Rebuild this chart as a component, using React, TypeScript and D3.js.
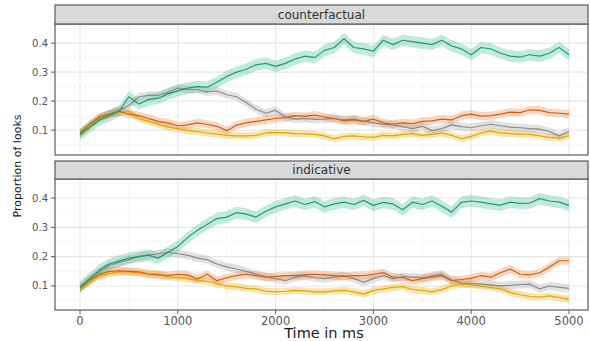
import * as d3 from "d3";
import React from "react";

// time points (ms)
const timeMs = [
  0, 100, 200, 300, 400, 500, 600, 700, 800, 900, 1000, 1100, 1200, 1300, 1400,
  1500, 1600, 1700, 1800, 1900, 2000, 2100, 2200, 2300, 2400, 2500, 2600, 2700,
  2800, 2900, 3000, 3100, 3200, 3300, 3400, 3500, 3600, 3700, 3800, 3900, 4000,
  4100, 4200, 4300, 4400, 4500, 4600, 4700, 4800, 4900, 5000,
];

// counterfactual panel
const cfGreen = [
  0.085, 0.11, 0.135, 0.15, 0.165, 0.215, 0.19, 0.205, 0.21, 0.225, 0.235,
  0.245, 0.25, 0.248, 0.265, 0.285, 0.3, 0.31, 0.325, 0.33, 0.32, 0.33, 0.345,
  0.355, 0.35, 0.375, 0.385, 0.415, 0.385, 0.38, 0.372, 0.41, 0.395, 0.41,
  0.405, 0.4, 0.395, 0.41, 0.39, 0.38, 0.36, 0.385, 0.38, 0.365, 0.355, 0.352,
  0.36, 0.355, 0.365, 0.385, 0.36,
];
const cfOrange = [
  0.09, 0.12, 0.145, 0.155, 0.165, 0.155, 0.15, 0.14, 0.13, 0.125, 0.115,
  0.118, 0.125, 0.12, 0.113, 0.098, 0.117, 0.125, 0.13, 0.135, 0.14, 0.143,
  0.15, 0.147, 0.152, 0.145, 0.14, 0.132, 0.135, 0.13, 0.138, 0.125, 0.12,
  0.125, 0.122, 0.13, 0.132, 0.138, 0.135, 0.15, 0.155, 0.148, 0.15, 0.155,
  0.162, 0.16, 0.17, 0.168, 0.16, 0.158, 0.155,
];
const cfGray = [
  0.09, 0.115, 0.14, 0.155, 0.168, 0.185, 0.215, 0.22, 0.22, 0.23, 0.245, 0.24,
  0.24, 0.232, 0.235, 0.222, 0.215, 0.195, 0.172, 0.158, 0.168, 0.145, 0.138,
  0.14, 0.137, 0.138, 0.14, 0.135, 0.138, 0.13, 0.125, 0.12, 0.118, 0.112,
  0.105, 0.113, 0.098, 0.105, 0.118, 0.112, 0.108, 0.115, 0.12, 0.115, 0.11,
  0.108, 0.105, 0.103, 0.095, 0.08, 0.095,
];
const cfYellow = [
  0.085, 0.115, 0.145, 0.155, 0.16, 0.165, 0.14, 0.13, 0.12, 0.11, 0.105,
  0.098, 0.095, 0.09, 0.086, 0.082, 0.08, 0.08, 0.082, 0.09, 0.092, 0.09,
  0.088, 0.087, 0.085, 0.08, 0.07, 0.078, 0.08, 0.077, 0.075, 0.082, 0.08,
  0.085, 0.088, 0.082, 0.085, 0.09, 0.082, 0.07, 0.078, 0.09, 0.097, 0.09,
  0.088, 0.086, 0.085, 0.08, 0.075, 0.072, 0.08,
];

// indicative panel
const indGreen = [
  0.097, 0.125, 0.155, 0.175, 0.185, 0.195, 0.2, 0.205, 0.195, 0.215, 0.235,
  0.265, 0.29, 0.31, 0.33, 0.335, 0.35, 0.345, 0.335, 0.355, 0.37, 0.38, 0.39,
  0.378, 0.388, 0.37, 0.38, 0.386, 0.378, 0.392, 0.375, 0.385, 0.38, 0.36,
  0.386, 0.378, 0.39, 0.372, 0.352, 0.385, 0.39, 0.386, 0.38, 0.376, 0.386,
  0.382, 0.383, 0.398, 0.39, 0.386, 0.375,
];
const indOrange = [
  0.092, 0.12, 0.14, 0.15, 0.152, 0.15, 0.148, 0.14, 0.138, 0.135, 0.14,
  0.138, 0.124, 0.14, 0.118, 0.128, 0.135, 0.14, 0.135, 0.13, 0.132, 0.135,
  0.135, 0.138, 0.14, 0.138, 0.135, 0.133, 0.135, 0.135, 0.14, 0.146, 0.13,
  0.128, 0.118, 0.125, 0.13, 0.135, 0.118, 0.122, 0.126, 0.135, 0.13, 0.145,
  0.158, 0.14, 0.138, 0.145, 0.165, 0.186, 0.186,
];
const indGray = [
  0.095, 0.125, 0.15, 0.17, 0.18, 0.19, 0.2, 0.205, 0.21, 0.215, 0.21, 0.205,
  0.195, 0.19, 0.175, 0.165, 0.158, 0.15, 0.14, 0.132, 0.125, 0.118, 0.13,
  0.135, 0.128, 0.125, 0.13, 0.135, 0.125, 0.113, 0.125, 0.135, 0.125, 0.132,
  0.13, 0.128, 0.135, 0.14, 0.12, 0.11, 0.108, 0.106, 0.104, 0.1, 0.102, 0.105,
  0.106, 0.09, 0.1, 0.095, 0.092,
];
const indYellow = [
  0.09, 0.115, 0.135, 0.142, 0.148, 0.148, 0.145, 0.142, 0.14, 0.132, 0.128,
  0.124, 0.12, 0.116, 0.108, 0.1, 0.097, 0.092, 0.09, 0.082, 0.08, 0.082,
  0.085, 0.083, 0.08, 0.08, 0.083, 0.085, 0.08, 0.072, 0.085, 0.09, 0.095,
  0.098, 0.088, 0.085, 0.08, 0.088, 0.1, 0.106, 0.104, 0.1, 0.095, 0.09, 0.078,
  0.07, 0.064, 0.062, 0.066, 0.06, 0.055,
];

// ribbon half widths (proportion), one per series: gray, yellow, orange, green
const ribbonHalf = [0.014, 0.012, 0.014, 0.02];
const seriesColors = ["#a6a6a6", "#e6ab02", "#e8823a", "#3dbb92"];
const lineColors = ["#8c8c8c", "#e0a800", "#d2600e", "#1b9e77"];

const panelTitles = ["counterfactual", "indicative"];
const panelSeries = [
  [cfGray, cfYellow, cfOrange, cfGreen],
  [indGray, indYellow, indOrange, indGreen],
];

const xTicks = [0, 1000, 2000, 3000, 4000, 5000];
const xMinor = [500, 1500, 2500, 3500, 4500];
const yTicks = [0.1, 0.2, 0.3, 0.4];
const yMinor = [0.05, 0.15, 0.25, 0.35, 0.45];

const W = 590;
const H = 341;
const panelLeft = 55;
const panelRight = 588;
const fontFamily = "DejaVu Sans, sans-serif";

const layout = [
  { stripTop: 5, top: 24, bottom: 155, domain: [0.014, 0.466] },
  { stripTop: 161, top: 179, bottom: 310, domain: [0.018, 0.465] },
];

const x = d3.scaleLinear().domain([0, 5000]).range([80, 569]);

function Panel({ idx }: { idx: number }) {
  const lay = layout[idx];
  const y = d3.scaleLinear().domain(lay.domain).range([lay.bottom, lay.top]);
  const series = panelSeries[idx];
  const clipId = `clip-${idx}`;

  return (
    <g>
      <defs>
        <clipPath id={clipId}>
          <rect
            x={panelLeft}
            y={lay.top}
            width={panelRight - panelLeft}
            height={lay.bottom - lay.top}
          />
        </clipPath>
      </defs>
      <rect
        x={panelLeft}
        y={lay.top}
        width={panelRight - panelLeft}
        height={lay.bottom - lay.top}
        fill="#ffffff"
      />
      {/* minor grid */}
      {yMinor.map((v) => (
        <line
          key={"ym" + v}
          x1={panelLeft}
          x2={panelRight}
          y1={y(v)}
          y2={y(v)}
          stroke="#f2f2f2"
          strokeWidth={0.6}
        />
      ))}
      {xMinor.map((t) => (
        <line
          key={"xm" + t}
          x1={x(t)}
          x2={x(t)}
          y1={lay.top}
          y2={lay.bottom}
          stroke="#f2f2f2"
          strokeWidth={0.6}
        />
      ))}
      {/* major grid */}
      {yTicks.map((v) => (
        <line
          key={"yg" + v}
          x1={panelLeft}
          x2={panelRight}
          y1={y(v)}
          y2={y(v)}
          stroke="#e8e8e8"
          strokeWidth={1.1}
        />
      ))}
      {xTicks.map((t) => (
        <line
          key={"xg" + t}
          x1={x(t)}
          x2={x(t)}
          y1={lay.top}
          y2={lay.bottom}
          stroke="#e8e8e8"
          strokeWidth={1.1}
        />
      ))}

      <g clipPath={`url(#${clipId})`}>
        {series.map((vals, si) => {
          const area = d3
            .area<number>()
            .x((_, i) => x(timeMs[i]))
            .y0((d) => y(d - ribbonHalf[si]))
            .y1((d) => y(d + ribbonHalf[si]))
            .curve(d3.curveLinear);
          return (
            <path
              key={"r" + si}
              d={area(vals) || ""}
              fill={seriesColors[si]}
              fillOpacity={0.32}
            />
          );
        })}
        {series.map((vals, si) => {
          const line = d3
            .line<number>()
            .x((_, i) => x(timeMs[i]))
            .y((d) => y(d));
          return (
            <path
              key={"l" + si}
              d={line(vals) || ""}
              fill="none"
              stroke={lineColors[si]}
              strokeWidth={1.2}
              strokeLinejoin="round"
            />
          );
        })}
      </g>

      <rect
        x={panelLeft}
        y={lay.top}
        width={panelRight - panelLeft}
        height={lay.bottom - lay.top}
        fill="none"
        stroke="#5a5a5a"
        strokeWidth={1.2}
      />

      {/* strip */}
      <rect
        x={panelLeft}
        y={lay.stripTop}
        width={panelRight - panelLeft}
        height={lay.top - lay.stripTop}
        fill="#d9d9d9"
        stroke="#5a5a5a"
        strokeWidth={1.2}
      />
      <text
        x={(panelLeft + panelRight) / 2}
        y={(lay.stripTop + lay.top) / 2 + 4}
        textAnchor="middle"
        fontFamily={fontFamily}
        fontSize={12}
        fill="#333333"
      >
        {panelTitles[idx]}
      </text>

      {/* y axis */}
      {yTicks.map((v) => (
        <g key={"yt" + v}>
          <line
            x1={panelLeft - 4}
            x2={panelLeft}
            y1={y(v)}
            y2={y(v)}
            stroke="#5a5a5a"
            strokeWidth={1}
          />
          <text
            x={panelLeft - 7}
            y={y(v) + 3.5}
            textAnchor="end"
            fontFamily={fontFamily}
            fontSize={10}
            fill="#555555"
          >
            {d3.format(".1f")(v)}
          </text>
        </g>
      ))}

      {/* x axis ticks only on bottom panel */}
      {idx === 1 &&
        xTicks.map((t) => (
          <g key={"xt" + t}>
            <line
              x1={x(t)}
              x2={x(t)}
              y1={lay.bottom}
              y2={lay.bottom + 4}
              stroke="#5a5a5a"
              strokeWidth={1}
            />
            <text
              x={x(t)}
              y={lay.bottom + 15}
              textAnchor="middle"
              fontFamily={fontFamily}
              fontSize={11.5}
              fill="#555555"
            >
              {t}
            </text>
          </g>
        ))}
    </g>
  );
}

export default function App() {
  return (
    <svg
      width={W}
      height={H}
      style={{ position: "absolute", left: 0, top: 0, background: "#ffffff" }}
    >
      <rect x={0} y={0} width={W} height={H} fill="#ffffff" />
      <Panel idx={0} />
      <Panel idx={1} />
      <text
        x={324}
        y={338}
        textAnchor="middle"
        fontFamily={fontFamily}
        fontSize={14.5}
        fill="#1a1a1a"
      >
        Time in ms
      </text>
      <text
        transform="translate(21,166) rotate(-90)"
        textAnchor="middle"
        fontFamily={fontFamily}
        fontSize={11}
        fill="#1a1a1a"
      >
        Proportion of looks
      </text>
    </svg>
  );
}
